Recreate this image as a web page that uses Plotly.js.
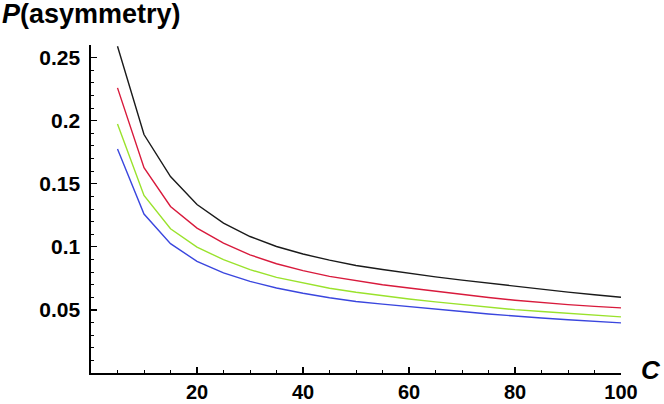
<!DOCTYPE html>
<html>
<head>
<meta charset="utf-8">
<script src="https://cdn.plot.ly/plotly-3.0.1.min.js"></script>
<style>
  html, body { margin: 0; padding: 0; background: #fff; }
  #chart { width: 664px; height: 404px; }
</style>
</head>
<body>
<div id="chart"></div>
<script>
// ── Data (C = 5 … 100 in steps of 5) ─────────────────────────────────────────
const C_VALS = [5, 10, 15, 20, 25, 30, 35, 40, 45, 50,
                55, 60, 65, 70, 75, 80, 85, 90, 95, 100];

const P_BLACK = [0.259, 0.189, 0.1557, 0.1335, 0.1188, 0.1082, 0.1003, 0.0943, 0.0895, 0.0852,
                 0.0820, 0.0790, 0.0762, 0.0736, 0.0711, 0.0686, 0.0664, 0.0641, 0.0620, 0.0600];
const P_RED   = [0.226, 0.1628, 0.1320, 0.1149, 0.1030, 0.0937, 0.0866, 0.0811, 0.0766, 0.0730,
                 0.0700, 0.0674, 0.0647, 0.0621, 0.0598, 0.0577, 0.0558, 0.0542, 0.0528, 0.0516];
const P_GREEN = [0.1974, 0.1407, 0.1143, 0.0998, 0.0898, 0.0819, 0.0758, 0.0714, 0.0672, 0.0640,
                 0.0612, 0.0587, 0.0564, 0.0542, 0.0521, 0.0502, 0.0488, 0.0473, 0.0459, 0.0445];
const P_BLUE  = [0.1776, 0.1260, 0.1025, 0.0885, 0.0793, 0.0726, 0.0674, 0.0632, 0.0597, 0.0567,
                 0.0546, 0.0528, 0.0507, 0.0487, 0.0468, 0.0450, 0.0436, 0.0422, 0.0409, 0.0397];

const X_TICKS = [20, 40, 60, 80, 100];
const Y_TICKS = [0.05, 0.1, 0.15, 0.2, 0.25];
const Y_LABELS = ['0.05', '0.1', '0.15', '0.2', '0.25'];

// ── Traces ────────────────────────────────────────────────────────────────────
const SERIES = [
  { y: P_BLACK, color: '#1a1a1a' },
  { y: P_RED,   color: '#d81a3c' },
  { y: P_GREEN, color: '#9ae22c' },
  { y: P_BLUE,  color: '#3a46de' },
];
const traces = SERIES.map(s => ({
  x: C_VALS, y: s.y, type: 'scatter', mode: 'lines',
  line: { color: s.color, width: 1.4 },
  hoverinfo: 'skip',
}));

const FONT = 'Liberation Sans, Arial, sans-serif';

const AXIS = {
  showgrid: false, zeroline: false,
  showline: true, linecolor: '#000', linewidth: 1.6,
  ticks: 'inside', ticklen: 6, tickwidth: 1.2, tickcolor: '#000',
  fixedrange: true,
};

const layout = {
  width: 664, height: 404,
  paper_bgcolor: '#fff', plot_bgcolor: '#fff',
  showlegend: false,
  margin: { l: 91, r: 43, t: 45, b: 31 },
  xaxis: Object.assign({}, AXIS, {
    range: [0, 100], autorange: false,
    tickmode: 'array', tickvals: X_TICKS, ticktext: X_TICKS.map(String),
    tickfont: { family: FONT, size: 20, color: '#000', weight: 'bold' },
    ticklabelstandoff: 0,
    minor: { dtick: 5, tick0: 0, ticks: 'inside', ticklen: 3, tickwidth: 1, tickcolor: '#000' },
  }),
  yaxis: Object.assign({}, AXIS, {
    range: [0, 0.26], autorange: false,
    tickmode: 'array', tickvals: Y_TICKS, ticktext: Y_LABELS,
    tickfont: { family: FONT, size: 21, color: '#000', weight: 'bold' },
    ticklabelstandoff: 5,
    minor: { dtick: 0.01, tick0: 0, ticks: 'inside', ticklen: 3, tickwidth: 1, tickcolor: '#000' },
  }),
  annotations: [
    { xref: 'paper', yref: 'paper', x: -0.171, y: 1.0, yshift: 31,
      xanchor: 'left', yanchor: 'middle', showarrow: false,
      text: '<b><i>P</i>(asymmetry)</b>',
      font: { family: FONT, size: 27, color: '#000' } },
    { xref: 'paper', yref: 'paper', x: 1.0, y: 0.0, xshift: 18, yshift: 3,
      xanchor: 'left', yanchor: 'middle', showarrow: false,
      text: '<b><i>C</i></b>',
      font: { family: FONT, size: 26, color: '#000' } },
  ],
};

Plotly.newPlot('chart', traces, layout, { displayModeBar: false, staticPlot: true });
</script>
</body>
</html>
